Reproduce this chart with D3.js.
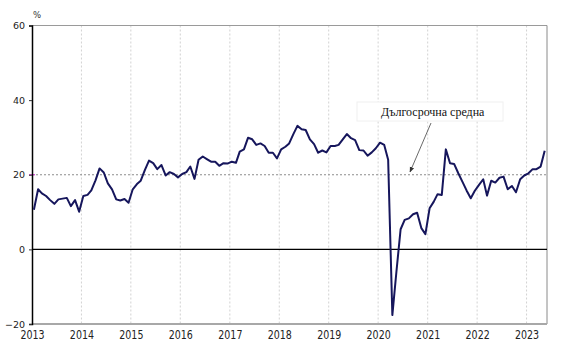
<!DOCTYPE html>
<html><head><meta charset="utf-8">
<script src="https://cdn.jsdelivr.net/npm/d3@7"></script>
<style>
html,body{margin:0;padding:0;background:#fff;}
svg{display:block;}
</style></head>
<body>
<svg id="chart" width="564" height="348"></svg>
<script>
// ---- data (monthly, Jan 2013 – May 2023) ----
const startYear = 2013;
const v2013 = [10.6, 16.1, 15.0, 14.3, 13.2, 12.2, 13.4, 13.6, 13.8, 11.6, 13.2, 10.1];
const v2014 = [14.3, 14.6, 15.8, 18.5, 21.7, 20.6, 17.7, 16.1, 13.4, 13.1, 13.5, 12.5];
const v2015 = [16.1, 17.5, 18.4, 21.3, 23.8, 23.1, 21.5, 22.6, 19.8, 20.7, 20.2, 19.3];
const v2016 = [20.2, 20.7, 22.2, 18.9, 24.0, 24.9, 24.2, 23.5, 23.5, 22.4, 23.1, 23.0];
const v2017 = [23.5, 23.2, 26.2, 26.8, 29.9, 29.5, 28.0, 28.4, 27.7, 25.9, 25.9, 24.4];
const v2018 = [26.8, 27.5, 28.4, 30.9, 33.1, 32.2, 32.0, 29.5, 28.2, 25.9, 26.5, 26.0];
const v2019 = [27.7, 27.7, 28.0, 29.5, 30.9, 29.8, 29.3, 26.6, 26.5, 25.1, 26.0, 27.1];
const v2020 = [28.6, 28.0, 24.0, -17.6, -6.0, 5.4, 7.9, 8.3, 9.4, 9.8, 5.7, 4.1];
const v2021 = [11.0, 12.8, 14.8, 14.6, 26.8, 23.1, 22.9, 20.4, 18.1, 15.8, 13.7, 15.7];
const v2022 = [17.3, 18.8, 14.4, 18.4, 17.9, 19.2, 19.5, 16.1, 17.0, 15.3, 18.8, 19.8];
const v2023 = [20.4, 21.5, 21.5, 22.2, 26.4];
const longTermAverage = 20;
const yTicks = [60, 40, 20, 0, -20];
const xTickYears = [2013, 2014, 2015, 2016, 2017, 2018, 2019, 2020, 2021, 2022, 2023];
const unitLabel = "%";
const annotationText = "Дългосрочна средна";

const allValues = [v2013, v2014, v2015, v2016, v2017, v2018, v2019, v2020, v2021, v2022, v2023];
const series = [];
allValues.forEach((arr, yi) => arr.forEach((v, m) => series.push({date: new Date(startYear + yi, m, 15), value: v})));

// ---- layout ----
const svg = d3.select("#chart");
const L = 32, R = 547, T = 25.5, B = 324;
const x = d3.scaleTime().domain([new Date(2013, 0, 1), new Date(2023, 5, 1)]).range([L, R]);
const y = d3.scaleLinear().domain([-20, 60]).range([B, T]);

// vertical year gridlines
svg.append("g").selectAll("line").data(xTickYears.slice(1)).join("line")
  .attr("x1", d => x(new Date(d, 0, 1))).attr("x2", d => x(new Date(d, 0, 1)))
  .attr("y1", T).attr("y2", B)
  .attr("stroke", "#d2d2d2").attr("stroke-width", 1).attr("stroke-dasharray", "2,2");

// frame: top, right, bottom
svg.append("line").attr("x1", L).attr("x2", R).attr("y1", y(60)).attr("y2", y(60))
  .attr("stroke", "#9a9a9a").attr("stroke-width", 1);
svg.append("line").attr("x1", R).attr("x2", R).attr("y1", T).attr("y2", B)
  .attr("stroke", "#8a8a8a").attr("stroke-width", 1);
svg.append("line").attr("x1", L).attr("x2", R).attr("y1", y(-20)).attr("y2", y(-20))
  .attr("stroke", "#a8a8a8").attr("stroke-width", 2);

// long-term average line
svg.append("line").attr("x1", L).attr("x2", R).attr("y1", y(longTermAverage)).attr("y2", y(longTermAverage))
  .attr("stroke", "#8c8c8c").attr("stroke-width", 1).attr("stroke-dasharray", "2,2");
svg.append("line").attr("x1", L - 3).attr("x2", L + 3).attr("y1", y(longTermAverage)).attr("y2", y(longTermAverage))
  .attr("stroke", "#d040d0").attr("stroke-width", 1.2);

// zero line
svg.append("line").attr("x1", L).attr("x2", R).attr("y1", y(0)).attr("y2", y(0))
  .attr("stroke", "#000").attr("stroke-width", 1.2);

// y axis
const yAxis = d3.axisLeft(y).tickValues(yTicks).tickSize(3).tickPadding(4).tickFormat(d3.format("d"));
const gy = svg.append("g").attr("transform", `translate(${L},0)`).call(yAxis);
gy.select(".domain").attr("stroke", "#000").attr("stroke-width", 1.5);
gy.selectAll(".tick line").attr("stroke", "#333");
gy.selectAll("text").attr("font-family", "DejaVu Sans, sans-serif").attr("font-size", 9.5).attr("fill", "#222");

// x axis labels
const xAxis = d3.axisBottom(x).tickValues(xTickYears.map(yv => new Date(yv, 0, 1)))
  .tickSize(0).tickPadding(0).tickFormat(d3.timeFormat("%Y"));
const gx = svg.append("g").attr("transform", `translate(0,${B})`).call(xAxis);
gx.select(".domain").remove();
gx.selectAll("text").attr("font-family", "DejaVu Sans, sans-serif").attr("font-size", 9.5).attr("fill", "#222")
  .attr("dy", null).attr("y", 0)
  .attr("transform", "translate(0,15) scale(1,1.25)");

// unit label
svg.append("text").attr("x", 33).attr("y", 18).text(unitLabel)
  .attr("font-family", "DejaVu Sans, sans-serif").attr("font-size", 8.5).attr("fill", "#333");

// the series line
const line = d3.line().x(d => x(d.date)).y(d => y(d.value));
svg.append("path").datum(series).attr("d", line)
  .attr("fill", "none").attr("stroke", "#16165c").attr("stroke-width", 2).attr("stroke-linejoin", "round");

// annotation
svg.append("rect").attr("x", 357).attr("y", 102).attr("width", 146).attr("height", 19)
  .attr("fill", "#fff").attr("stroke", "#f0f0f0").attr("stroke-width", 1);
svg.append("text").attr("x", 381).attr("y", 116).text(annotationText)
  .attr("font-family", "Liberation Serif, Times New Roman, serif").attr("font-size", 12).attr("fill", "#111");
svg.append("defs").append("marker").attr("id", "arr").attr("viewBox", "0 0 10 10")
  .attr("refX", 9).attr("refY", 5).attr("markerWidth", 7).attr("markerHeight", 7).attr("orient", "auto")
  .append("path").attr("d", "M0,1 L10,5 L0,9 Z").attr("fill", "#333");
svg.append("line").attr("x1", 431).attr("y1", 123).attr("x2", 410).attr("y2", 172)
  .attr("stroke", "#444").attr("stroke-width", 0.8).attr("marker-end", "url(#arr)");
</script>
</body></html>
